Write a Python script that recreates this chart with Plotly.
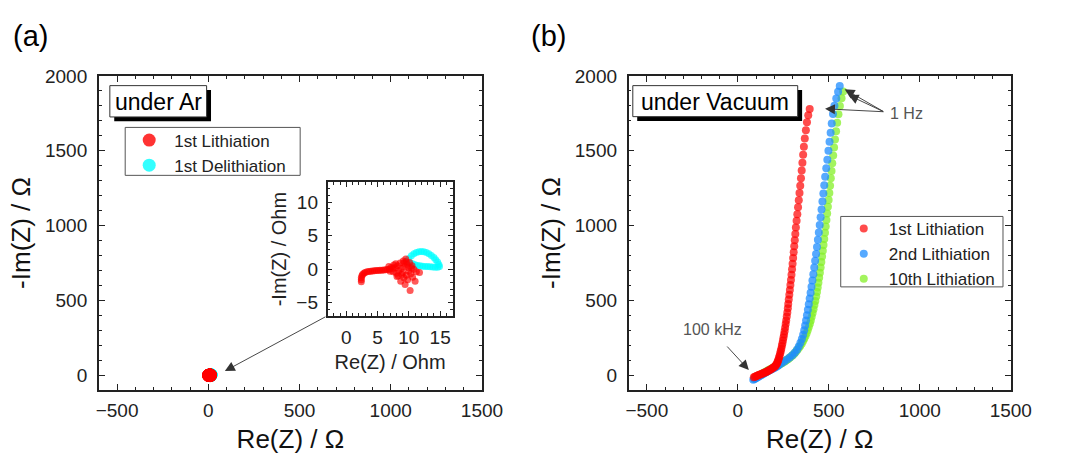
import plotly.graph_objects as go

W, H = 1067, 463
FONT = "Liberation Sans, Arial, sans-serif"

# ---------------- data: panel (a), 1st cycle under Ar (Ohm) ----------------
ar_lith_re = [2.4, 2.4, 2.4, 2.5, 2.6, 2.8, 3.0, 3.3, 3.6, 3.9, 4.2, 4.5, 4.8, 5.1, 5.4,
              5.7, 6.0, 6.3, 6.6, 6.9, 7.2, 7.0, 7.5, 7.8, 7.6, 8.0, 8.2, 8.4, 8.3, 8.6,
              8.7, 8.8, 9.0, 9.1, 9.2, 9.3, 9.4, 9.5, 9.6, 9.7, 9.8, 9.9, 10.0, 10.1,
              10.2, 10.3, 10.5, 10.6, 10.8, 11.0, 11.2, 11.7, 9.2, 8.9, 7.4, 6.8, 8.1,
              9.6, 10.4, 7.9]
ar_lith_im = [-1.9, -1.6, -1.3, -1.0, -0.8, -0.6, -0.5, -0.4, -0.35, -0.3, -0.28, -0.25,
              -0.22, -0.2, -0.18, -0.15, -0.12, -0.1, -0.05, 0.0, 0.3, -0.3, -0.4, 0.2,
              0.6, -0.6, 0.5, -0.2, -1.0, 0.9, -1.8, 0.1, -0.5, 1.2, -1.3, 0.4, -2.3,
              1.5, -0.9, 0.7, -1.6, 0.2, -0.3, 1.0, -3.2, -0.7, 0.5, -1.2, 0.0, -1.8,
              -0.4, -0.5, 0.9, -0.8, 0.1, 0.4, -1.1, 1.1, 0.2, 0.8]
ar_delith_re = [9.6, 10.0, 10.4, 10.8, 11.2, 11.6, 12.0, 12.4, 12.8, 13.2, 13.6, 14.0,
                14.3, 14.6, 14.8, 14.9, 14.6, 14.2, 13.8, 13.4, 13.0, 12.6, 12.2, 11.8,
                11.4, 11.0, 10.6, 10.2]
ar_delith_im = [1.2, 1.6, 2.0, 2.3, 2.5, 2.6, 2.65, 2.6, 2.5, 2.3, 2.05, 1.75, 1.4, 1.05,
                0.7, 0.4, 0.3, 0.3, 0.32, 0.35, 0.38, 0.4, 0.45, 0.5, 0.55, 0.65, 0.8, 0.95]

# ---------------- data: panel (b), under vacuum (Ohm) ----------------
vac1_re = [88, 94, 100, 106, 112, 118, 124, 130, 136, 142, 148, 154, 160, 166, 172, 178,
           184, 190, 196, 202, 207, 211, 215, 218, 221, 224, 227, 230, 233, 236, 239, 242,
           245, 248, 251, 254, 257, 260, 263, 266, 269, 272, 275, 277, 280, 283, 286, 289,
           292, 295, 298, 301, 304, 307, 310, 313, 316, 319, 323, 327, 331, 335, 339, 343,
           347, 351, 355, 359, 363, 368, 374, 380, 387, 395]
vac1_im = [-14, -10, -7, -4, -1, 2, 5, 8, 11, 14, 17, 20, 24, 28, 32, 36, 41, 46, 51, 56,
           62, 69, 77, 86, 96, 107, 119, 132, 146, 161, 177, 194, 212, 231, 251, 272, 294,
           317, 341, 366, 392, 419, 447, 476, 506, 537, 569, 602, 636, 671, 707, 744, 782,
           821, 861, 902, 944, 987, 1031, 1076, 1122, 1169, 1217, 1266, 1316, 1367, 1419,
           1472, 1526, 1581, 1636, 1690, 1737, 1778]

vac2_re = [85, 92, 99, 106, 113, 120, 127, 134, 141, 148, 155, 162, 170, 178, 186, 194,
           202, 210, 218, 226, 240, 255, 270, 285, 300, 313, 325, 335, 344, 352, 359, 365,
           370, 375, 380, 385, 390, 395, 400, 405, 410, 415, 420, 425, 430, 435, 440, 445,
           450, 455, 460, 465, 470, 475, 480, 486, 492, 498, 504, 510, 516, 523, 531, 541,
           551, 560]
vac2_im = [-30, -25, -20, -15, -10, -5, 0, 5, 10, 15, 20, 25, 30, 35, 40, 45, 50, 55, 61,
           67, 80, 92, 105, 118, 133, 150, 170, 192, 216, 242, 270, 300, 332, 366, 401,
           437, 474, 512, 551, 591, 632, 675, 719, 764, 810, 857, 905, 954, 1004, 1055,
           1107, 1160, 1214, 1269, 1325, 1382, 1440, 1499, 1559, 1620, 1682, 1745, 1800,
           1848, 1893, 1932]

vac10_re = [90, 97, 104, 111, 118, 125, 132, 139, 146, 153, 160, 167, 175, 183, 191, 199,
            207, 215, 223, 231, 239, 247, 255, 263, 271, 279, 287, 295, 303, 311, 319, 327,
            335, 343, 351, 358, 365, 372, 378, 384, 390, 396, 401, 406, 411, 416, 421, 426,
            431, 435, 439, 443, 447, 451, 455, 459, 463, 467, 471, 475, 479, 483, 487, 491,
            495, 499, 503, 507, 511, 515, 519, 524, 529, 534, 540, 546, 553, 561, 570, 579]
vac10_im = [-22, -17, -12, -7, -2, 3, 8, 13, 18, 23, 28, 33, 38, 43, 48, 53, 58, 63, 68,
            73, 78, 84, 90, 96, 103, 110, 118, 126, 135, 145, 156, 168, 181, 195, 210, 226,
            243, 261, 280, 300, 321, 343, 366, 390, 415, 441, 468, 496, 525, 555, 586, 618,
            651, 685, 720, 756, 793, 831, 870, 910, 951, 993, 1036, 1080, 1125, 1171, 1218,
            1266, 1315, 1365, 1416, 1468, 1521, 1575, 1630, 1686, 1743, 1798, 1850, 1895]

main_ticks = [-500, 0, 500, 1000, 1500]
main_yticks = [0, 500, 1000, 1500, 2000]
inset_xticks = [0, 5, 10, 15]
inset_yticks = [-5, 0, 5, 10]


def px(x):
    return x / W


def py(y):
    return 1 - y / H


RED = "#FF0000"
CYAN = "#00FFFF"
BLUE = "#1E8CFF"
GREEN = "#84F028"

fig = go.Figure()

# panel (a) main
fig.add_trace(go.Scatter(x=ar_delith_re, y=ar_delith_im, mode="markers", name="1st Delithiation",
                         marker=dict(color=CYAN, size=13, opacity=0.8), legend="legend",
                         legendrank=2, xaxis="x", yaxis="y"))
fig.add_trace(go.Scatter(x=ar_lith_re, y=ar_lith_im, mode="markers", name="1st Lithiation",
                         marker=dict(color=RED, size=13, opacity=0.8), legend="legend",
                         legendrank=1, xaxis="x", yaxis="y"))
# inset
fig.add_trace(go.Scatter(x=ar_delith_re, y=ar_delith_im, mode="markers", showlegend=False,
                         marker=dict(color=CYAN, size=7, opacity=0.7), xaxis="x3", yaxis="y3"))
fig.add_trace(go.Scatter(x=ar_lith_re, y=ar_lith_im, mode="markers", showlegend=False,
                         marker=dict(color=RED, size=7, opacity=0.65), xaxis="x3", yaxis="y3"))
# panel (b)
fig.add_trace(go.Scatter(x=vac10_re, y=vac10_im, mode="markers", name="10th Lithiation",
                         marker=dict(color=GREEN, size=8, opacity=0.75), legend="legend2",
                         legendrank=3, xaxis="x2", yaxis="y2"))
fig.add_trace(go.Scatter(x=vac2_re, y=vac2_im, mode="markers", name="2nd Lithiation",
                         marker=dict(color=BLUE, size=8, opacity=0.75), legend="legend2",
                         legendrank=2, xaxis="x2", yaxis="y2"))
fig.add_trace(go.Scatter(x=vac1_re, y=vac1_im, mode="markers", name="1st Lithiation",
                         marker=dict(color=RED, size=8, opacity=0.7), legend="legend2",
                         legendrank=1, xaxis="x2", yaxis="y2"))

tickfont = dict(family=FONT, size=19, color="#222")
titlefont = dict(family=FONT, size=26, color="#111")


def main_axis(domain, rng, tickvals, title, standoff, label_gap):
    return dict(domain=domain, range=rng, tickvals=tickvals, ticks="inside", ticklen=6,
                tickwidth=1.3, tickcolor="#222",
                minor=dict(dtick=100, ticks="inside", ticklen=3, tickwidth=1.1, tickcolor="#222"),
                showline=True, linewidth=1.5, linecolor="#222", mirror="allticks",
                showgrid=False, zeroline=False, tickfont=tickfont, ticklabelstandoff=label_gap,
                title=dict(text=title, font=titlefont, standoff=standoff))


ya_dom = [py(388.5), py(67.3)]
inset_font = dict(family=FONT, size=20, color="#222")
layout = dict(
    width=W, height=H, margin=dict(l=0, r=0, t=0, b=0),
    paper_bgcolor="white", plot_bgcolor="white",
    font=dict(family=FONT, color="#222"),
    xaxis=main_axis([px(98), px(490)], [-600, 1500], main_ticks, "Re(Z) / Ω", 10, 2),
    yaxis=main_axis(ya_dom, [-100, 2000], main_yticks, "-Im(Z) / Ω", 7, 6),
    xaxis2=main_axis([px(640), px(1031)], [-600, 1500], main_ticks, "Re(Z) / Ω", 10, 2),
    yaxis2=main_axis(ya_dom, [-100, 2000], main_yticks, "-Im(Z) / Ω", 7, 6),
    xaxis3=dict(domain=[px(332), px(460)], range=[-3, 17], tickvals=inset_xticks,
                ticks="inside", ticklen=5, tickwidth=1.2, tickcolor="#222",
                minor=dict(dtick=1, ticks="inside", ticklen=3, tickcolor="#222"),
                showline=True, linewidth=1.5, linecolor="#222", mirror="allticks",
                showgrid=False, zeroline=False, tickfont=tickfont, ticklabelstandoff=4,
                title=dict(text="Re(Z) / Ohm", font=inset_font, standoff=8), anchor="y3"),
    yaxis3=dict(domain=[py(312.7), py(176)], range=[-7, 13], tickvals=inset_yticks,
                ticks="inside", ticklen=5, tickwidth=1.2, tickcolor="#222",
                minor=dict(dtick=1, ticks="inside", ticklen=3, tickcolor="#222"),
                showline=True, linewidth=1.5, linecolor="#222", mirror="allticks",
                showgrid=False, zeroline=False, tickfont=tickfont, ticklabelstandoff=4,
                title=dict(text="-Im(Z) / Ohm", font=inset_font, standoff=4), anchor="x3"),
    legend=dict(x=px(124), y=py(115), xanchor="left", yanchor="top",
                bgcolor="rgba(0,0,0,0)", borderwidth=0,
                font=dict(family=FONT, size=17, color="#222"), itemwidth=40, tracegroupgap=0),
    legend2=dict(x=px(855), y=py(205.5), xanchor="left", yanchor="top",
                 bgcolor="rgba(0,0,0,0)", borderwidth=0,
                 font=dict(family=FONT, size=17, color="#222"), itemwidth=40, tracegroupgap=0),
)
fig.update_layout(**layout)
fig.update_layout(xaxis=dict(anchor="y"), yaxis=dict(anchor="x"),
                  xaxis2=dict(anchor="y2"), yaxis2=dict(anchor="x2"))

shapes = []
annotations = []


def rect(x0, y0, x1, y1, fill, line_color=None):
    shapes.append(dict(type="rect", xref="paper", yref="paper", x0=px(x0), x1=px(x1),
                       y0=py(y1), y1=py(y0), fillcolor=fill,
                       line=dict(color=line_color or fill, width=1 if line_color else 0),
                       layer="above"))


def label_box(x0, y0, x1, y1, text):
    rect(x0 + 4.5, y0 + 4.5, x1 + 4.5, y1 + 4.5, "black")
    rect(x0, y0, x1, y1, "white", "#333")
    annotations.append(dict(x=px((x0 + x1) / 2), y=py((y0 + y1) / 2 + 1), xref="paper",
                            yref="paper", text=text, showarrow=False, xanchor="center",
                            yanchor="middle", font=dict(family=FONT, size=23, color="black")))


label_box(109.3, 77.3, 208.3, 109.3, "under Ar")
label_box(644.3, 77.3, 813, 109, "under Vacuum")

# legend frames
rect(125, 120, 304, 169, "white", "#555")
rect(857, 211, 1023, 283, "white", "#555")

annotations.append(dict(x=px(8), y=py(27), xref="paper", yref="paper", text="(a)",
                        showarrow=False, xanchor="left", yanchor="middle",
                        font=dict(family=FONT, size=29, color="black")))
annotations.append(dict(x=px(538), y=py(27), xref="paper", yref="paper", text="(b)",
                        showarrow=False, xanchor="left", yanchor="middle",
                        font=dict(family=FONT, size=29, color="black")))


def arrow(tip, tail, text=""):
    annotations.append(dict(x=px(tip[0]), y=py(tip[1]), xref="paper", yref="paper",
                            ax=tail[0] - tip[0], ay=tail[1] - tip[1], axref="pixel", ayref="pixel",
                            text=text, showarrow=True, arrowhead=2, arrowsize=2.2, arrowwidth=0.9,
                            arrowcolor="#333"))


arrow((227, 369), (329, 314))
arrow((763, 368), (740, 343))
arrow((841, 101), (901, 104))
arrow((861, 81), (901, 104))
arrow((865, 87), (901, 104))

annotations.append(dict(x=px(726), y=py(327), xref="paper", yref="paper", text="100 kHz",
                        showarrow=False, xanchor="center", yanchor="middle",
                        font=dict(family=FONT, size=16, color="#555")))
annotations.append(dict(x=px(905), y=py(106), xref="paper", yref="paper", text="1 Hz",
                        showarrow=False, xanchor="left", yanchor="middle",
                        font=dict(family=FONT, size=16, color="#555")))

fig.update_layout(shapes=shapes, annotations=annotations)
fig.write_html("out.html")
